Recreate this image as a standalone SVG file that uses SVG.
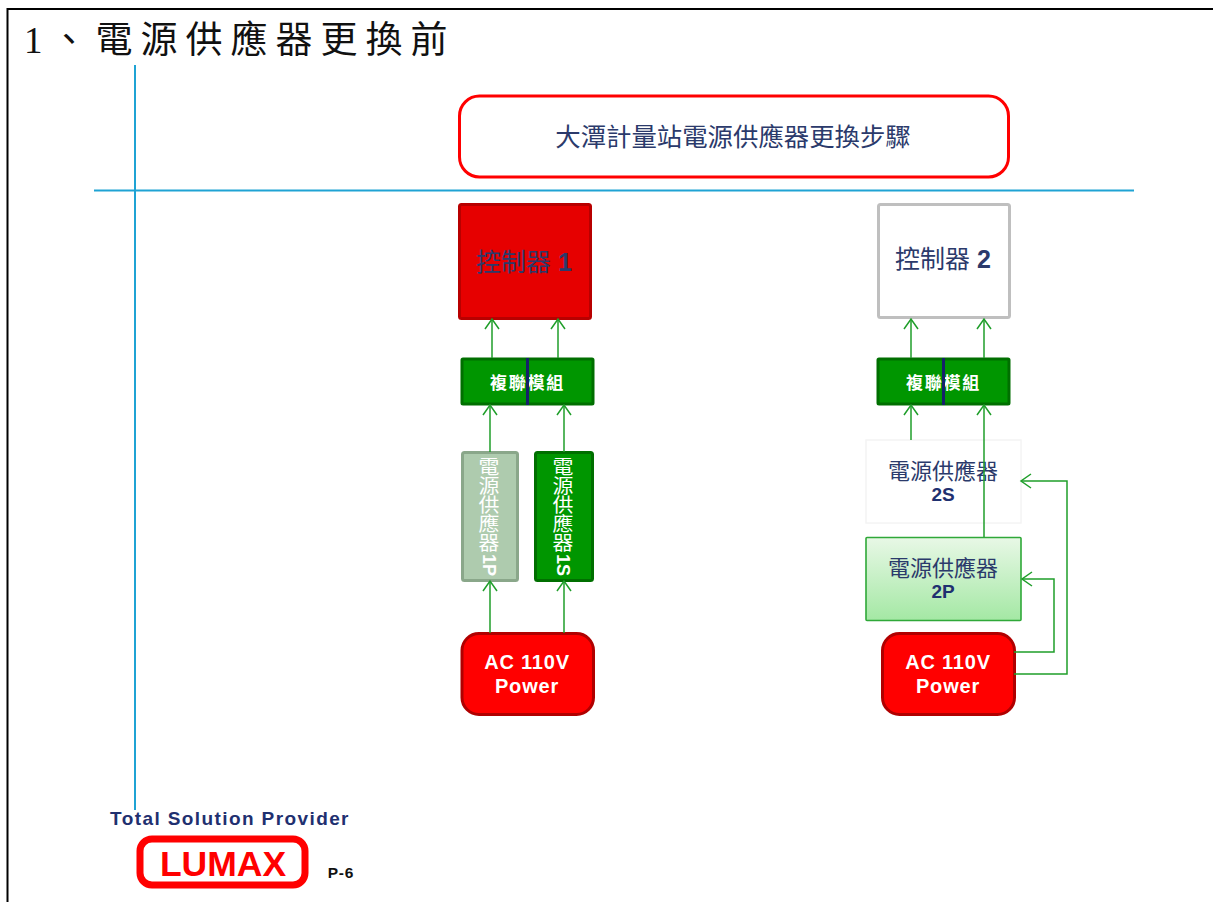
<svg xmlns="http://www.w3.org/2000/svg" width="1213" height="902" viewBox="0 0 1213 902">
<style>
text{font-family:"Liberation Sans","Noto Sans CJK TC",sans-serif;text-anchor:middle}
.navy{fill:#2b3a6b}
.nb{fill:#1f3070;font-weight:bold}
.w{fill:#fff}
.wb{fill:#fff;font-weight:bold}
.c{fill:none;stroke:#1f9e2a;stroke-width:1.500;marker-end:url(#a)}
.pwr{fill:#f00;stroke:#b00000;stroke-width:3}
.mux{fill:#009600;stroke:#006f00;stroke-width:3}
.bar{fill:#16206a}
.ac{letter-spacing:.8px}
</style>
<defs>
<marker id="a" markerUnits="userSpaceOnUse" markerWidth="14" markerHeight="16" refX="11" refY="8" orient="auto"><path d="M1 1L11 8L1 15" fill="none" stroke="#1f9e2a" stroke-width="1.500"/></marker>
<linearGradient id="g" x1="0" y1="0" x2="0" y2="1"><stop offset="0" stop-color="#e8f8e6"/><stop offset="1" stop-color="#a4e8a4"/></linearGradient>
</defs>
<rect width="1213" height="902" fill="#fff"/>
<g id="frame"><path d="M7.500 902V9H1213" fill="none" stroke="#000" stroke-width="2"/></g>
<g id="title"><text x="24" y="53" font-size="37" letter-spacing="8" style="font-family:'Liberation Serif','Noto Sans CJK TC',serif;text-anchor:start" fill="#111">1、電源供應器更換前</text></g>
<g id="axes" stroke="#1fa3d4" stroke-width="2"><path d="M135 65V810M94 190.500H1134" fill="none"/></g>
<g id="heading"><rect x="459.500" y="96" width="549" height="81" rx="20" fill="#fff" stroke="#f00" stroke-width="3"/><text class="navy" x="733" y="146" font-size="25.400">大潭計量站電源供應器更換步驟</text></g>
<g id="controller-1"><rect x="459.500" y="204.500" width="131" height="114" rx="2" fill="#e60000" stroke="#b80000" stroke-width="3"/><text class="navy" x="524" y="271" font-size="25">控制器 <tspan font-weight="bold">1</tspan></text></g>
<g id="controller-2"><rect x="878.500" y="204.500" width="131" height="113" rx="2" fill="#fff" stroke="#bfbfbf" stroke-width="3"/><text class="navy" x="943" y="268" font-size="25">控制器 <tspan font-weight="bold">2</tspan></text></g>
<g id="mux-1"><rect class="mux" x="462" y="359" width="131" height="45" rx="1"/><text class="wb" x="527.500" y="389" font-size="17" letter-spacing="1.700">複聯模組</text><rect class="bar" x="526" y="358" width="3" height="47"/></g>
<g id="mux-2"><rect class="mux" x="878" y="359" width="131" height="45" rx="1"/><text class="wb" x="943.500" y="389" font-size="17" letter-spacing="1.700">複聯模組</text><rect class="bar" x="942" y="358" width="3" height="47"/></g>
<g id="psu-1p"><rect x="462.500" y="452.500" width="55" height="128" rx="2" fill="#aecbae" stroke="#8aa78a" stroke-width="3"/><text class="w" font-size="19" transform="translate(489 0) scale(1.100 1)"><tspan x="0" y="474">電</tspan><tspan x="0" y="493">源</tspan><tspan x="0" y="512">供</tspan><tspan x="0" y="531">應</tspan><tspan x="0" y="550">器</tspan></text><text class="wb" transform="translate(483 565) rotate(90)" font-size="18">1P</text></g>
<g id="psu-1s"><rect x="535.500" y="452.500" width="57" height="128" rx="2" fill="#009600" stroke="#006f00" stroke-width="3"/><text class="w" font-size="19" transform="translate(563 0) scale(1.100 1)"><tspan x="0" y="474">電</tspan><tspan x="0" y="493">源</tspan><tspan x="0" y="512">供</tspan><tspan x="0" y="531">應</tspan><tspan x="0" y="550">器</tspan></text><text class="wb" transform="translate(557 565) rotate(90)" font-size="18">1S</text></g>
<g id="psu-2s"><rect x="866" y="440" width="155" height="83" fill="#fff" stroke="#f4f4f4" stroke-width="1.500"/><text class="navy" x="943" y="479" font-size="22">電源供應器</text><text class="nb" x="943" y="501" font-size="19">2S</text></g>
<g id="psu-2p"><rect x="866" y="537.500" width="155" height="83" rx="1" fill="url(#g)" stroke="#2fa838" stroke-width="1.600"/><text class="navy" x="943" y="576" font-size="22">電源供應器</text><text class="nb" x="943" y="598" font-size="19">2P</text></g>
<g id="power-1"><rect class="pwr" x="462" y="633.500" width="131.500" height="81" rx="17"/><text class="wb ac" x="527" y="669" font-size="20">AC 110V</text><text class="wb ac" x="527" y="693" font-size="20">Power</text></g>
<g id="power-2"><rect class="pwr" x="882.500" y="633.500" width="132" height="81" rx="17"/><text class="wb ac" x="948" y="669" font-size="20">AC 110V</text><text class="wb ac" x="948" y="693" font-size="20">Power</text></g>
<g id="connectors">
<path class="c" d="M492 358V319"/><path class="c" d="M558 358V319"/>
<path class="c" d="M490 452V405"/><path class="c" d="M564 452V405"/>
<path class="c" d="M490 633V581"/><path class="c" d="M564 633V581"/>
<path class="c" d="M911 358V319"/><path class="c" d="M984 358V319"/>
<path class="c" d="M911 440V405"/><path class="c" d="M984 537V405"/>
<path class="c" d="M1014 652H1054V579H1022"/>
<path class="c" d="M1014 674H1067V481H1021"/>
</g>
<g id="logo"><text class="nb" x="230" y="825" font-size="19" letter-spacing="1.400">Total Solution Provider</text><rect x="140" y="839" width="165" height="46" rx="12" fill="#fff" stroke="#f00" stroke-width="7"/><text x="223" y="876" font-size="35.500" font-weight="bold" fill="#f00">LUMAX</text><text x="341" y="878" font-size="15.500" font-weight="bold" letter-spacing=".8" fill="#111">P-6</text></g>
</svg>
